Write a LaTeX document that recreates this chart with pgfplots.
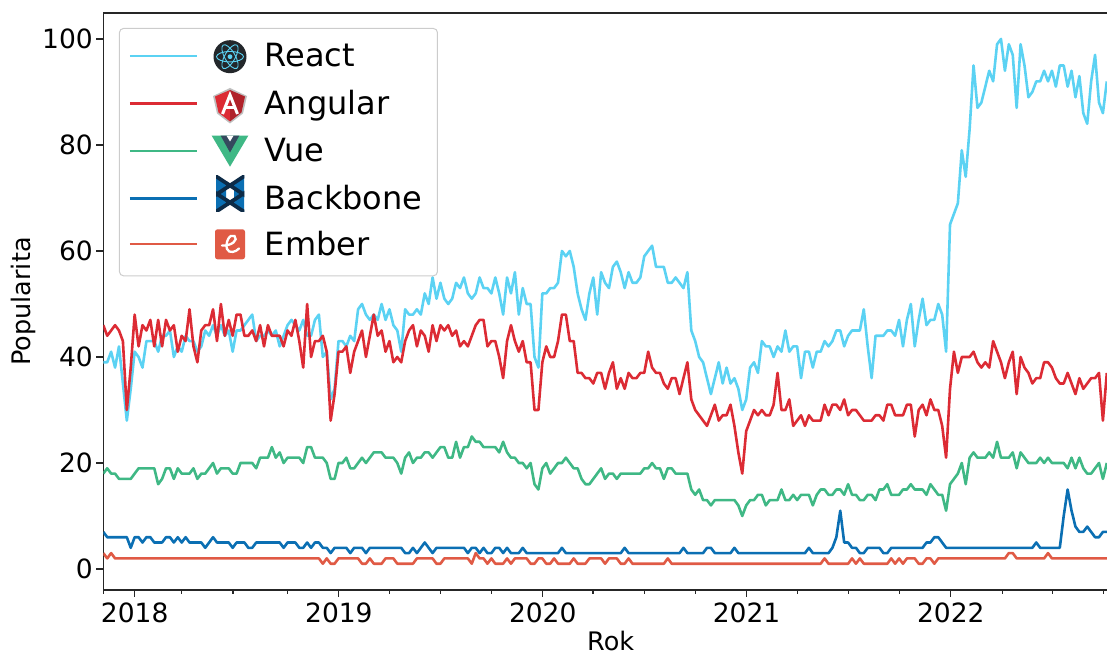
\documentclass[border=0pt]{standalone}
\usepackage{pgfplots}
\usepackage{pgfplotstable}
\usepackage{fontspec}
\setmainfont{DejaVu Sans}
\pgfplotsset{compat=1.18}
\definecolor{creact}{HTML}{5BD2F3}
\definecolor{cangular}{HTML}{DC2B34}
\definecolor{cvue}{HTML}{3FB885}
\definecolor{cbackbone}{HTML}{0B6FB3}
\definecolor{cember}{HTML}{E05A45}
\definecolor{cvuedark}{HTML}{35495E}
\definecolor{cbonedark}{HTML}{0D2B47}
\definecolor{creactdark}{HTML}{23272B}
\pgfplotstableread[header=false,row sep=\\]{
39\\39\\41\\38\\42\\35\\28\\34\\41\\40\\
38\\43\\43\\43\\41\\44\\44\\45\\40\\42\\
41\\44\\43\\43\\41\\42\\45\\44\\46\\44\\
46\\44\\45\\41\\45\\45\\46\\47\\48\\43\\
44\\44\\45\\44\\45\\42\\44\\46\\47\\46\\
45\\47\\44\\44\\47\\48\\40\\41\\32\\34\\
43\\43\\42\\44\\43\\49\\50\\48\\47\\48\\
47\\50\\47\\49\\46\\45\\41\\49\\48\\48\\
49\\48\\52\\50\\55\\51\\54\\51\\50\\51\\
54\\53\\55\\52\\51\\52\\55\\53\\53\\52\\
55\\52\\48\\55\\52\\56\\48\\53\\50\\50\\
40\\38\\52\\52\\53\\53\\54\\60\\59\\60\\
57\\52\\49\\47\\52\\55\\48\\56\\54\\53\\
57\\58\\56\\53\\56\\54\\54\\55\\59\\60\\
61\\57\\57\\57\\54\\54\\55\\54\\53\\56\\
45\\43\\40\\39\\36\\33\\36\\39\\35\\38\\
35\\36\\34\\30\\32\\38\\39\\37\\43\\42\\
42\\40\\42\\41\\45\\41\\42\\42\\36\\41\\
41\\38\\41\\41\\43\\42\\43\\45\\45\\42\\
44\\45\\45\\45\\49\\42\\36\\44\\44\\44\\
45\\45\\44\\47\\42\\47\\50\\42\\47\\51\\
46\\47\\47\\50\\48\\41\\65\\67\\69\\79\\
74\\83\\95\\87\\88\\91\\94\\92\\99\\100\\
94\\99\\97\\87\\99\\95\\89\\90\\92\\92\\
94\\92\\94\\91\\95\\95\\91\\94\\89\\93\\
86\\84\\92\\97\\88\\86\\92\\
}\tabReact
\pgfplotstableread[header=false,row sep=\\]{
46\\44\\45\\46\\45\\43\\30\\38\\48\\42\\
46\\45\\47\\42\\47\\42\\47\\45\\46\\41\\
44\\43\\49\\42\\39\\45\\46\\46\\49\\43\\
50\\44\\47\\44\\48\\48\\44\\44\\45\\43\\
46\\42\\46\\44\\44\\44\\42\\45\\44\\47\\
43\\38\\50\\40\\43\\43\\44\\41\\28\\33\\
41\\41\\42\\37\\41\\43\\45\\40\\44\\48\\
44\\45\\41\\43\\39\\40\\39\\43\\45\\46\\
42\\45\\44\\41\\46\\43\\46\\45\\46\\44\\
45\\42\\43\\42\\44\\46\\47\\47\\42\\43\\
43\\40\\36\\43\\46\\43\\41\\43\\39\\39\\
30\\30\\39\\42\\40\\40\\43\\48\\48\\43\\
43\\37\\37\\36\\36\\35\\37\\37\\34\\37\\
39\\34\\36\\34\\37\\36\\36\\37\\37\\41\\
38\\37\\37\\35\\34\\36\\36\\33\\36\\39\\
32\\30\\29\\28\\27\\29\\31\\28\\29\\29\\
31\\27\\22\\18\\26\\28\\30\\29\\30\\29\\
29\\31\\37\\30\\30\\32\\27\\28\\29\\27\\
29\\28\\28\\28\\31\\29\\31\\31\\30\\32\\
29\\30\\30\\29\\28\\28\\28\\29\\29\\28\\
31\\31\\29\\29\\29\\31\\31\\25\\30\\31\\
29\\32\\30\\30\\27\\21\\34\\41\\37\\40\\
40\\40\\41\\39\\38\\39\\38\\43\\41\\39\\
36\\39\\41\\33\\40\\38\\37\\35\\36\\36\\
39\\39\\38\\36\\35\\35\\37\\35\\33\\36\\
34\\35\\36\\36\\37\\28\\37\\
}\tabAngular
\pgfplotstableread[header=false,row sep=\\]{
18\\19\\18\\18\\17\\17\\17\\17\\18\\19\\
19\\19\\19\\19\\16\\17\\19\\19\\17\\19\\
18\\18\\18\\19\\17\\18\\18\\19\\20\\18\\
19\\19\\19\\18\\18\\20\\20\\20\\20\\19\\
21\\21\\21\\23\\21\\22\\20\\21\\21\\21\\
21\\20\\23\\23\\21\\21\\21\\20\\17\\17\\
20\\20\\21\\19\\19\\20\\21\\20\\21\\22\\
22\\22\\21\\21\\21\\20\\18\\21\\22\\20\\
21\\21\\22\\22\\21\\22\\23\\23\\21\\21\\
24\\21\\23\\23\\25\\24\\24\\23\\23\\23\\
23\\22\\24\\22\\21\\21\\20\\20\\19\\20\\
16\\15\\19\\20\\18\\19\\20\\20\\21\\20\\
19\\19\\17\\16\\16\\17\\18\\19\\17\\18\\
18\\17\\18\\18\\18\\18\\18\\18\\19\\19\\
20\\19\\19\\17\\19\\19\\18\\18\\18\\18\\
15\\14\\15\\13\\13\\12\\13\\13\\13\\13\\
13\\13\\12\\10\\12\\13\\13\\14\\14\\12\\
13\\13\\13\\15\\13\\13\\14\\13\\14\\14\\
14\\12\\14\\15\\15\\14\\14\\15\\15\\14\\
16\\14\\14\\13\\13\\14\\14\\13\\15\\15\\
16\\14\\14\\14\\15\\15\\16\\15\\15\\15\\
14\\16\\15\\14\\14\\11\\16\\17\\18\\20\\
16\\21\\22\\21\\21\\21\\22\\21\\24\\21\\
21\\21\\22\\19\\22\\21\\20\\20\\20\\21\\
20\\21\\20\\20\\20\\20\\19\\21\\19\\21\\
19\\18\\18\\19\\20\\17\\20\\
}\tabVue
\pgfplotstableread[header=false,row sep=\\]{
7\\6\\6\\6\\6\\6\\6\\4\\6\\6\\
5\\6\\6\\5\\5\\5\\6\\6\\5\\6\\
5\\6\\5\\5\\5\\5\\4\\5\\6\\5\\
5\\5\\5\\4\\5\\5\\5\\4\\4\\5\\
5\\5\\5\\5\\5\\5\\4\\5\\5\\5\\
4\\4\\5\\4\\5\\5\\4\\4\\3\\4\\
4\\4\\4\\3\\4\\4\\4\\3\\4\\4\\
4\\4\\4\\4\\4\\4\\4\\3\\3\\4\\
3\\4\\5\\4\\3\\4\\4\\4\\4\\4\\
4\\4\\4\\3\\4\\4\\3\\4\\3\\3\\
4\\4\\3\\4\\3\\3\\3\\4\\3\\3\\
3\\3\\3\\3\\3\\3\\3\\4\\3\\3\\
3\\3\\3\\3\\3\\3\\3\\3\\3\\3\\
3\\3\\3\\4\\3\\3\\3\\3\\3\\3\\
3\\3\\3\\3\\3\\3\\3\\3\\4\\3\\
3\\3\\3\\3\\4\\4\\3\\3\\3\\3\\
3\\4\\3\\3\\3\\3\\3\\3\\3\\3\\
3\\3\\3\\3\\3\\3\\3\\3\\3\\3\\
4\\3\\3\\3\\3\\3\\4\\6\\11\\5\\
5\\4\\4\\3\\3\\4\\4\\4\\4\\3\\
3\\4\\4\\4\\4\\4\\4\\4\\4\\4\\
5\\5\\6\\6\\5\\4\\4\\4\\4\\4\\
4\\4\\4\\4\\4\\4\\4\\4\\4\\4\\
4\\4\\4\\4\\4\\4\\4\\4\\5\\4\\
4\\4\\4\\4\\4\\10\\15\\11\\8\\7\\
7\\8\\7\\6\\6\\7\\7\\
}\tabBackbone
\pgfplotstableread[header=false,row sep=\\]{
3\\2\\3\\2\\2\\2\\2\\2\\2\\2\\
2\\2\\2\\2\\2\\2\\2\\2\\2\\2\\
2\\2\\2\\2\\2\\2\\2\\2\\2\\2\\
2\\2\\2\\2\\2\\2\\2\\2\\2\\2\\
2\\2\\2\\2\\2\\2\\2\\2\\2\\2\\
2\\2\\2\\2\\2\\2\\1\\2\\1\\1\\
2\\2\\2\\2\\2\\2\\1\\1\\2\\1\\
1\\1\\2\\2\\2\\1\\1\\1\\1\\1\\
2\\2\\2\\2\\2\\1\\1\\2\\2\\2\\
2\\2\\2\\2\\1\\3\\2\\2\\1\\2\\
1\\1\\1\\2\\1\\2\\2\\2\\2\\1\\
1\\2\\2\\1\\1\\2\\1\\1\\1\\1\\
2\\1\\1\\1\\2\\2\\2\\2\\1\\2\\
2\\2\\1\\1\\2\\1\\1\\1\\1\\1\\
1\\1\\1\\1\\2\\1\\1\\1\\1\\1\\
1\\1\\1\\1\\1\\1\\1\\1\\1\\1\\
1\\1\\1\\1\\1\\1\\1\\1\\1\\1\\
1\\1\\1\\1\\1\\1\\1\\1\\1\\1\\
1\\1\\1\\1\\2\\1\\1\\1\\1\\1\\
1\\2\\1\\2\\1\\1\\1\\1\\1\\1\\
1\\2\\1\\2\\1\\2\\2\\2\\1\\1\\
2\\2\\1\\2\\2\\2\\2\\2\\2\\2\\
2\\2\\2\\2\\2\\2\\2\\2\\2\\2\\
2\\3\\3\\2\\2\\2\\2\\2\\2\\2\\
2\\3\\2\\2\\2\\2\\2\\2\\2\\2\\
2\\2\\2\\2\\2\\2\\2\\
}\tabEmber
\begin{document}
\begin{tikzpicture}[x=1pt,y=1pt]
\useasboundingbox (0,0) rectangle (1107,655);
\begin{axis}[
  at={(103.3pt,65pt)},anchor=south west,
  scale only axis,width=1004.7pt,height=577pt,
  xmin=0,xmax=256.3,ymin=-3.96,ymax=104.9,
  axis line style={line width=1.3pt,black!85},
  xtick={8,60.1,112.1,164.1,216.2},
  xticklabels={2018,2019,2020,2021,2022},
  minor xtick={0,20,33.1,47,73.1,86.1,99.1,124.9,138.1,151.1,177.1,190.1,203.2,229.3,242.2,255.2},
  ytick={0,20,40,60,80,100},
  tick align=outside,
  tick pos=lower,
  major tick length=7pt,minor tick length=4pt,
  every tick/.style={line width=1.2pt,black!85},
  tick label style={font=\fontsize{26.5}{31}\selectfont},
  xticklabel style={yshift=-2pt},
  /pgf/number format/assume math mode=true,
  xlabel={Rok},ylabel={Popularita},
  label style={font=\fontsize{25.5}{30}\selectfont},
  xlabel style={at={(axis description cs:0.505,0)},anchor=north,yshift=-38pt},
  ylabel style={at={(axis description cs:0,0.5)},anchor=south,yshift=64pt},
  legend style={at={(0.0156,0.974)},anchor=north west,draw=black!20,line width=1pt,
    rounded corners=4pt,fill=white,fill opacity=0.85,text opacity=1,
    font=\fontsize{32}{36}\selectfont,inner xsep=9pt,inner ysep=11pt,row sep=7.5pt,
    nodes={text depth=}},
  legend cell align=left,
  legend image code/.code={\draw[#1,line width=2.2pt] (0pt,3.5pt) -- (67pt,3.5pt); \path (0pt,-5pt) (0pt,5pt);},
  clip=true,
  every axis plot/.append style={line width=2.6pt,line join=round},
]
\addplot[creact] table[x expr=\coordindex,y index=0]{\tabReact};
\addlegendentry{\hspace*{65pt}React\strut}
\addplot[cangular] table[x expr=\coordindex,y index=0]{\tabAngular};
\addlegendentry{\hspace*{65pt}Angular\strut}
\addplot[cvue] table[x expr=\coordindex,y index=0]{\tabVue};
\addlegendentry{\hspace*{65pt}Vue\strut}
\addplot[cbackbone] table[x expr=\coordindex,y index=0]{\tabBackbone};
\addlegendentry{\hspace*{65pt}Backbone\hspace*{4pt}\strut}
\addplot[cember] table[x expr=\coordindex,y index=0]{\tabEmber};
\addlegendentry{\hspace*{65pt}Ember\rule[-7pt]{0pt}{25.2pt}}
\end{axis}
% logos, in image pixel coordinates
\begin{scope}[shift={(0,655)},x=1pt,y=-1pt]
  % React
  \fill[creactdark] (230,56.7) circle[radius=16.5];
  \foreach \a in {0,60,120}{\draw[creact,line width=0.9pt,rotate around={\a:(230,56.7)}] (230,56.7) ellipse[x radius=13.5,y radius=5.2];}
  \fill[creact] (230,56.7) circle[radius=2.4];
  % Angular
  \fill[black!25] (230,88) -- (213,96) -- (217,113.5) -- (230,123.5) -- (243,113.5) -- (247,96) -- cycle;
  \fill[cangular] (230,90) -- (215,96.5) -- (218.5,112.5) -- (230,121.5) -- cycle;
  \fill[cangular!80!black] (230,90) -- (245,96.5) -- (241.5,112.5) -- (230,121.5) -- cycle;
  \draw[white,line width=3pt,line join=miter] (222.5,114) -- (230,95) -- (237.5,114);
  \draw[white,line width=2.6pt] (225,107.5) -- (235,107.5);
  % Vue
  \fill[cvue] (211.7,135.7) -- (248.3,135.7) -- (230,166.7) -- cycle;
  \fill[cvuedark] (220.7,135.7) -- (239.3,135.7) -- (230,152.5) -- cycle;
  \fill[white] (226.5,135.7) -- (233.5,135.7) -- (230,141.5) -- cycle;
  % Backbone
  \fill[cbackbone] (216,176) -- (226,183) -- (226,205) -- (216,212) -- cycle;
  \fill[cbackbone] (244,176) -- (234,183) -- (234,205) -- (244,212) -- cycle;
  \begin{scope}
  \clip (216,176) rectangle (244.3,212);
  \draw[cbonedark,line width=3.8pt] (214,175) -- (246,196) (246,175) -- (214,196) (214,192) -- (246,213) (246,192) -- (214,213);
  \end{scope}
  % Ember
  \fill[cember,rounded corners=2.5pt] (215,229.3) rectangle (245,259.3);
  \draw[white,line width=2.3pt,line cap=round] (222,245.5) .. controls (232,246) and (238.5,240) .. (234.5,236) .. controls (229.5,233) and (225,243) .. (227,249) .. controls (229,254) and (236,252) .. (239,248.5);
\end{scope}
\end{tikzpicture}
\end{document}
